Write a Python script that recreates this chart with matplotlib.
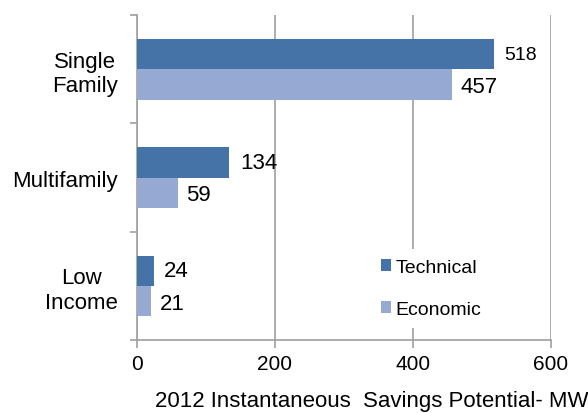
import numpy as np
import matplotlib
matplotlib.use("Agg")
import matplotlib.pyplot as plt

plt.rcParams['font.family'] = ['Liberation Sans', 'DejaVu Sans']

# savings potential by housing segment (MW)
segments = ["Single\nFamily", "Multifamily", "Low\nIncome"]
technical = [518, 134, 24]
economic = [457, 59, 21]

tech_color = "#4573A7"
econ_color = "#95A9D2"
grey = "#a0a0a0"

fig = plt.figure(figsize=(5.88, 4.14), dpi=100)
ax = fig.add_axes([0.233, 0.176, 0.704, 0.785])

y = np.arange(len(segments)) + 0.5
h = 0.28
b1 = ax.barh(y - h / 2, technical, height=h, color=tech_color, label="Technical", zorder=3)
b2 = ax.barh(y + h / 2, economic, height=h, color=econ_color, label="Economic", zorder=3)

# value labels, the largest one is a bit smaller
for i, (bar, v) in enumerate(zip(b1, technical)):
    ax.text(v + 15, bar.get_y() + bar.get_height() / 2, str(v),
            va="center", ha="left", fontsize=14 if i == 0 else 16, zorder=4)
for bar, v in zip(b2, economic):
    ax.text(v + 12, bar.get_y() + bar.get_height() / 2 + 0.02, str(v),
            va="center", ha="left", fontsize=16, zorder=4)

ax.set_xlim(0, 600)
ax.set_ylim(len(segments), 0)
ax.set_xticks([0, 200, 400, 600])
ax.tick_params(axis="x", labelsize=15, length=6, color=grey, width=1.2, pad=4)
ax.xaxis.grid(True, color=grey, linewidth=1.2, zorder=0)

# category names in the middle, tick marks on the boundaries
ax.set_yticks(y)
ax.set_yticklabels(segments, multialignment="center", fontsize=16)
ax.tick_params(axis="y", which="major", length=0, pad=14)
ax.set_yticks(np.arange(len(segments) + 1), minor=True)
ax.tick_params(axis="y", which="minor", length=5, color=grey, width=1.2)

for s in ["top", "right"]:
    ax.spines[s].set_visible(False)
for s in ["left", "bottom"]:
    ax.spines[s].set_color(grey)
    ax.spines[s].set_linewidth(1.2)

leg = ax.legend(loc="upper left", bbox_to_anchor=(0.565, 0.28),
                frameon=True, fontsize=14, handlelength=0.52, handleheight=0.57,
                handletextpad=0.26, labelspacing=1.3, borderpad=0.5,
                borderaxespad=0)
leg.get_frame().set_edgecolor("none")
leg.get_frame().set_facecolor("white")
leg.get_frame().set_alpha(1)
leg.set_zorder(5)

fig.text(155 / 588, 0.031, "2012 Instantaneous  Savings Potential- MW",
         ha="left", va="center", fontsize=16)

fig.savefig("out.png", dpi=100)
